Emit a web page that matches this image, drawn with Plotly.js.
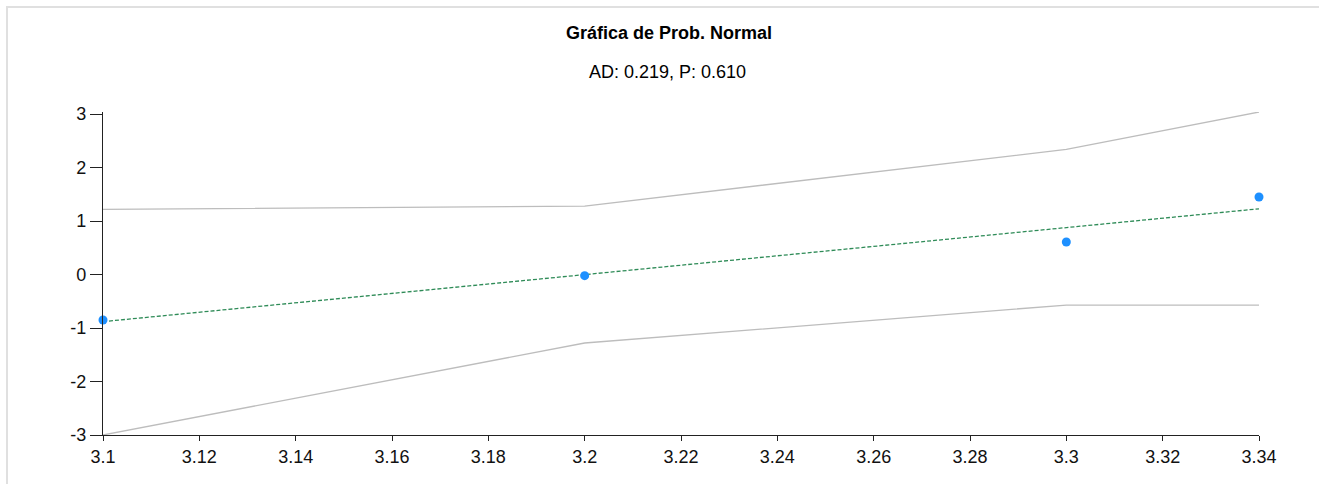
<!DOCTYPE html>
<html>
<head>
<meta charset="utf-8">
<script src="https://cdn.plot.ly/plotly-3.0.1.min.js"></script>
<style>
  html, body { margin: 0; padding: 0; background: #fff; overflow: hidden; }
  #wrap { position: relative; width: 1319px; height: 484px; overflow: hidden; }
  #chart { position: absolute; left: 0; top: 0; width: 1319px; height: 484px; }
  #frameTop { position: absolute; left: 6px; top: 6px; width: 1400px; height: 0;
           border-top: 2px solid #e0e0e0; pointer-events: none; }
  #frameLeft { position: absolute; left: 6px; top: 6px; width: 0; height: 600px;
           border-left: 2px solid #e0e0e0; pointer-events: none; }
</style>
</head>
<body>
<div id="wrap">
<div id="chart"></div>
<div id="frameTop"></div>
<div id="frameLeft"></div>
</div>
<script>
// Data
const xValues = [3.1, 3.2, 3.3, 3.34];
const normalScores = [-0.85, -0.02, 0.61, 1.45];
const fitX = [3.1, 3.34];
const fitY = [-0.88, 1.23];
const upperBand = [1.22, 1.28, 2.34, 3.04];
const lowerBand = [-3.0, -1.28, -0.57, -0.57];
const xTicks = [3.1, 3.12, 3.14, 3.16, 3.18, 3.2, 3.22, 3.24, 3.26, 3.28, 3.3, 3.32, 3.34];
const xTickText = ["3.1", "3.12", "3.14", "3.16", "3.18", "3.2", "3.22", "3.24", "3.26", "3.28", "3.3", "3.32", "3.34"];
const yTicks = [-3, -2, -1, 0, 1, 2, 3];
const yTickText = ["-3", "-2", "-1", "0", "1", "2", "3"];
const titleText = "Gráfica de Prob. Normal";
const subtitleText = "AD: 0.219, P: 0.610";

const FONT = "Liberation Sans, Arial, sans-serif";

const traces = [
  {
    x: xValues, y: upperBand, type: "scatter", mode: "lines",
    line: { color: "#bdbdbd", width: 1.3 }, hoverinfo: "skip", showlegend: false, cliponaxis: false
  },
  {
    x: xValues, y: lowerBand, type: "scatter", mode: "lines",
    line: { color: "#bdbdbd", width: 1.3 }, hoverinfo: "skip", showlegend: false, cliponaxis: false
  },
  {
    x: fitX, y: fitY, type: "scatter", mode: "lines",
    line: { color: "#2e8b57", width: 1.3, dash: "4px,2px" }, showlegend: false
  },
  {
    x: xValues, y: normalScores, type: "scatter", mode: "markers",
    marker: { color: "#1e90ff", size: 9 }, showlegend: false, cliponaxis: false
  }
];

const layout = {
  width: 1319, height: 484,
  margin: { l: 103, r: 60, t: 112, b: 49, pad: 0 },
  paper_bgcolor: "rgba(0,0,0,0)", plot_bgcolor: "rgba(0,0,0,0)",
  font: { family: FONT, size: 18, color: "#111" },
  showlegend: false,
  xaxis: {
    range: [3.1, 3.34], tickmode: "array", tickvals: xTicks, ticktext: xTickText,
    showgrid: false, zeroline: false, showline: true, linecolor: "#222", linewidth: 1.2,
    ticks: "outside", ticklen: 5, tickcolor: "#222", tickwidth: 1,
    tickfont: { family: FONT, size: 18, color: "#111" }, fixedrange: true
  },
  yaxis: {
    range: [-3, 3.04], tickmode: "array", tickvals: yTicks, ticktext: yTickText,
    showgrid: false, zeroline: false, showline: true, linecolor: "#222", linewidth: 1.2,
    ticks: "outside", ticklen: 12, tickcolor: "#222", tickwidth: 1,
    tickfont: { family: FONT, size: 18, color: "#111" }, fixedrange: true
  },
  annotations: [
    {
      text: "<b>" + titleText + "</b>", xref: "paper", yref: "paper",
      x: 0.49, y: 1.2452, xanchor: "center", yanchor: "middle", showarrow: false,
      font: { family: FONT, size: 18, color: "#000" }
    },
    {
      text: subtitleText, xref: "paper", yref: "paper",
      x: 0.488, y: 1.1249, xanchor: "center", yanchor: "middle", showarrow: false,
      font: { family: FONT, size: 18, color: "#000" }
    }
  ]
};

Plotly.newPlot("chart", traces, layout, { displayModeBar: false, staticPlot: true });
</script>
</body>
</html>
